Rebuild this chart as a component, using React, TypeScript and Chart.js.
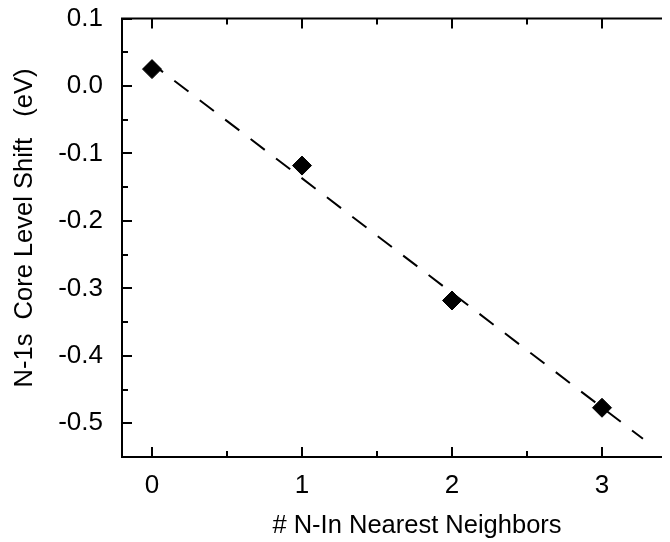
import React, { useEffect, useRef } from "react";
import { Chart, registerables } from "chart.js";

Chart.register(...registerables);

// Measured N-1s core level shifts versus number of N-In nearest neighbours
const NEIGHBORS = [0, 1, 2, 3];
const SHIFT_EV = [0.025, -0.118, -0.318, -0.477];

// Linear fit drawn as a dashed guide line
const FIT_X = [0, 3.273];
const FIT_Y = [0.033, -0.523];

// Axis ticks
const X_TICKS = [0, 1, 2, 3];
const X_MINOR = [0.5, 1.5, 2.5];
const Y_TICKS = [0.1, 0.0, -0.1, -0.2, -0.3, -0.4, -0.5];
const Y_MINOR = [0.05, -0.05, -0.15, -0.25, -0.35, -0.45];

const X_TITLE = "# N-In Nearest Neighbors";
const Y_TITLE = "N-1s  Core Level Shift   (eV)";

const FONT = '"Liberation Sans", Arial, Helvetica, sans-serif';
const CANVAS_W = 690;
const CANVAS_H = 534;

// Boxed frame with inward ticks on all four sides, plus the axis titles
const framePlugin = {
  id: "frame",
  afterDatasetsDraw(chart: any) {
    const { ctx, chartArea: a, scales } = chart;
    const xs = scales.x;
    const ys = scales.y;
    ctx.save();
    ctx.strokeStyle = "#000";
    ctx.lineWidth = 2;
    ctx.lineCap = "butt";
    ctx.setLineDash([]);
    ctx.strokeRect(a.left, a.top, a.right - a.left, a.bottom - a.top);

    ctx.beginPath();
    const xTick = (v: number, len: number) => {
      const p = Math.round(xs.getPixelForValue(v));
      ctx.moveTo(p, a.bottom);
      ctx.lineTo(p, a.bottom - len);
      ctx.moveTo(p, a.top);
      ctx.lineTo(p, a.top + len);
    };
    const yTick = (v: number, len: number) => {
      const p = Math.round(ys.getPixelForValue(v));
      ctx.moveTo(a.left, p);
      ctx.lineTo(a.left + len, p);
      ctx.moveTo(a.right, p);
      ctx.lineTo(a.right - len, p);
    };
    X_TICKS.forEach((v) => xTick(v, 10));
    X_MINOR.forEach((v) => xTick(v, 6));
    Y_TICKS.forEach((v) => yTick(v, 10));
    Y_MINOR.forEach((v) => yTick(v, 6));
    ctx.stroke();

    ctx.fillStyle = "#000";
    ctx.font = `25.5px ${FONT}`;
    ctx.textAlign = "center";
    ctx.textBaseline = "alphabetic";
    ctx.fillText(X_TITLE, 409, 525);

    ctx.translate(24, 220);
    ctx.rotate(-Math.PI / 2);
    ctx.fillText(Y_TITLE, 0, 0);
    ctx.restore();
  },
};

export default function App() {
  const canvasRef = useRef<HTMLCanvasElement | null>(null);

  useEffect(() => {
    document.documentElement.style.overflow = "hidden";
    const canvas = canvasRef.current;
    if (!canvas) return;

    const chart = new Chart(canvas, {
      type: "scatter",
      data: {
        datasets: [
          {
            type: "scatter",
            label: "Core level shift",
            data: NEIGHBORS.map((x, i) => ({ x, y: SHIFT_EV[i] })),
            pointStyle: "rectRot",
            pointRadius: 9.5,
            pointHoverRadius: 9.5,
            backgroundColor: "#000",
            borderColor: "#000",
            borderWidth: 1,
          },
          {
            type: "line",
            label: "Fit",
            data: FIT_X.map((x, i) => ({ x, y: FIT_Y[i] })),
            borderColor: "#000",
            borderWidth: 2,
            borderDash: [17.8, 14.2],
            borderDashOffset: 3.9,
            pointRadius: 0,
            fill: false,
            tension: 0,
          },
        ],
      },
      options: {
        responsive: false,
        animation: false,
        events: [],
        layout: { padding: { left: 0, top: 7, right: 21, bottom: 0 } },
        plugins: {
          legend: { display: false },
          tooltip: { enabled: false },
        },
        scales: {
          x: {
            type: "linear",
            min: -0.2,
            max: 3.5,
            grid: { display: false, drawTicks: false },
            border: { display: false },
            afterBuildTicks: (s: any) => {
              s.ticks = X_TICKS.map((value) => ({ value }));
            },
            afterFit: (s: any) => {
              s.height = 85;
              s.paddingLeft = 0;
              s.paddingRight = 0;
              s.paddingTop = 0;
              s.paddingBottom = 0;
            },
            ticks: {
              autoSkip: false,
              maxRotation: 0,
              padding: 13,
              color: "#000",
              font: { family: FONT, size: 26 },
              callback: (v: any) => String(v),
            },
          },
          y: {
            type: "linear",
            min: -0.55,
            max: 0.1,
            grid: { display: false, drawTicks: false },
            border: { display: false },
            afterBuildTicks: (s: any) => {
              s.ticks = Y_TICKS.map((value) => ({ value }));
            },
            afterFit: (s: any) => {
              s.width = 114;
              s.paddingLeft = 0;
              s.paddingRight = 0;
              s.paddingTop = 0;
              s.paddingBottom = 0;
            },
            ticks: {
              autoSkip: false,
              padding: 19,
              color: "#000",
              font: { family: FONT, size: 26 },
              callback: (v: any) => Number(v).toFixed(1),
            },
          },
        },
      },
      plugins: [framePlugin],
    });

    return () => chart.destroy();
  }, []);

  return (
    <div style={{ width: 662, height: CANVAS_H, overflow: "hidden" }}>
      <canvas
        ref={canvasRef}
        width={CANVAS_W}
        height={CANVAS_H}
        style={{ display: "block", width: CANVAS_W, height: CANVAS_H }}
      />
    </div>
  );
}
